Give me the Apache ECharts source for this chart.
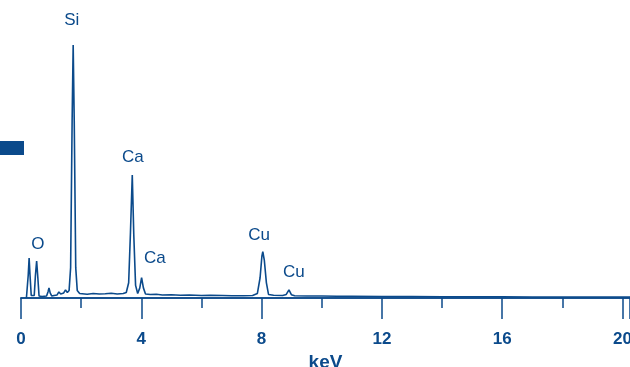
<!DOCTYPE html>
<html>
<head>
<meta charset="utf-8">
<script src="https://cdn.jsdelivr.net/npm/echarts@6/dist/echarts.min.js"></script>
<style>html,body{margin:0;padding:0;background:#fff}#c{width:630px;height:367px}</style>
</head>
<body>
<div id="c"></div>
<script>
// EDS spectrum: [energy keV, counts]
const spectrum = [
  [0.18,0],[0.21,6],[0.24,90],[0.27,158],[0.30,90],[0.34,10],[0.38,3],
  [0.44,10],[0.48,90],[0.52,146],[0.56,80],[0.60,8],[0.70,6],[0.85,8],
  [0.90,25],[0.93,40],[0.97,20],[1.02,8],[1.10,10],[1.20,12],[1.26,24],
  [1.32,16],[1.42,20],[1.48,32],[1.54,22],[1.60,30],[1.65,120],[1.70,700],
  [1.735,1000],[1.77,700],[1.82,120],[1.87,30],[1.95,18],
  [2.0,17],[2.2,15],[2.4,18],[2.6,16],[2.8,17],[3.0,19],[3.2,16],[3.4,18],
  [3.5,22],[3.58,60],[3.64,260],[3.70,486],[3.75,250],[3.81,50],[3.88,18],
  [3.95,40],[4.01,80],[4.07,40],[4.14,16],[4.3,14],[4.5,15],[4.7,12],
  [5.0,13],[5.3,11],[5.6,12],[6.0,10],[6.3,11],[6.7,10],[7.0,9],[7.4,9],
  [7.7,10],[7.86,18],[7.95,80],[8.01,165],[8.04,183],[8.09,150],[8.16,60],
  [8.23,14],[8.4,11],[8.7,10],[8.82,14],[8.91,32],[8.99,13],[9.1,9],
  [9.5,8],[10.0,8],[10.5,7],[11.0,7],[12.0,6],[13.0,6],[14.0,5],[15.0,5],
  [16.0,5],[17.0,4],[18.0,4],[19.0,4],[20.0,4],[20.25,4]
];
// element labels placed in data coordinates
const peakLabels = [
  {name:'Si', value:[1.69,1099]},
  {name:'Ca', value:[3.72,555]},
  {name:'Ca', value:[4.45,156]},
  {name:'O',  value:[0.56,213]},
  {name:'Cu', value:[7.92,249]},
  {name:'Cu', value:[9.07,101]}
];
const xMin = 0, xMax = 20.25;
const majorInterval = 4, minorInterval = 2;

const color = '#0b4a8b';
const chart = echarts.init(document.getElementById('c'), null, {renderer:'canvas'});
chart.setOption({
  animation:false,
  grid:{left:21, right:0, top:7, bottom:69, outerBoundsMode:'none', containLabel:false},
  xAxis:[
    {type:'value', min:xMin, max:xMax, interval:minorInterval,
     axisLine:{show:true, lineStyle:{color:color, width:1.6}},
     axisTick:{show:true, length:10, lineStyle:{color:color, width:1.5}},
     axisLabel:{show:false}, splitLine:{show:false}},
    {type:'value', min:xMin, max:xMax, interval:majorInterval, position:'bottom',
     axisLine:{show:true, lineStyle:{color:color, width:1.6}},
     axisTick:{show:true, length:21, lineStyle:{color:color, width:1.5}},
     axisLabel:{show:true, margin:33, color:color, fontSize:17, fontWeight:'bold',
       fontFamily:'Liberation Sans, Arial, sans-serif',
       formatter:v => (Math.abs(v % majorInterval) < 1e-9 ? String(v) : '')},
     splitLine:{show:false},
     name:'keV', nameLocation:'middle', nameGap:52,
     nameTextStyle:{color:color, fontSize:19, fontWeight:'bold', fontFamily:'Liberation Sans, Arial, sans-serif'}}
  ],
  yAxis:{type:'value', min:0, max:1150, show:false},
  series:[
    {type:'line', data:spectrum, showSymbol:false, symbol:'none',
     lineStyle:{color:color, width:1.6}, clip:false},
    {type:'scatter', data:peakLabels, symbolSize:0, itemStyle:{opacity:1},
     emphasis:{disabled:true}, silent:true,
     label:{show:true, position:'inside', formatter:p => p.name, color:color, opacity:1,
       fontSize:17, fontFamily:'Liberation Sans, Arial, sans-serif'}}
  ],
  graphic:[{type:'rect', shape:{x:0, y:141, width:24, height:14}, style:{fill:color}}]
});
</script>
</body>
</html>
